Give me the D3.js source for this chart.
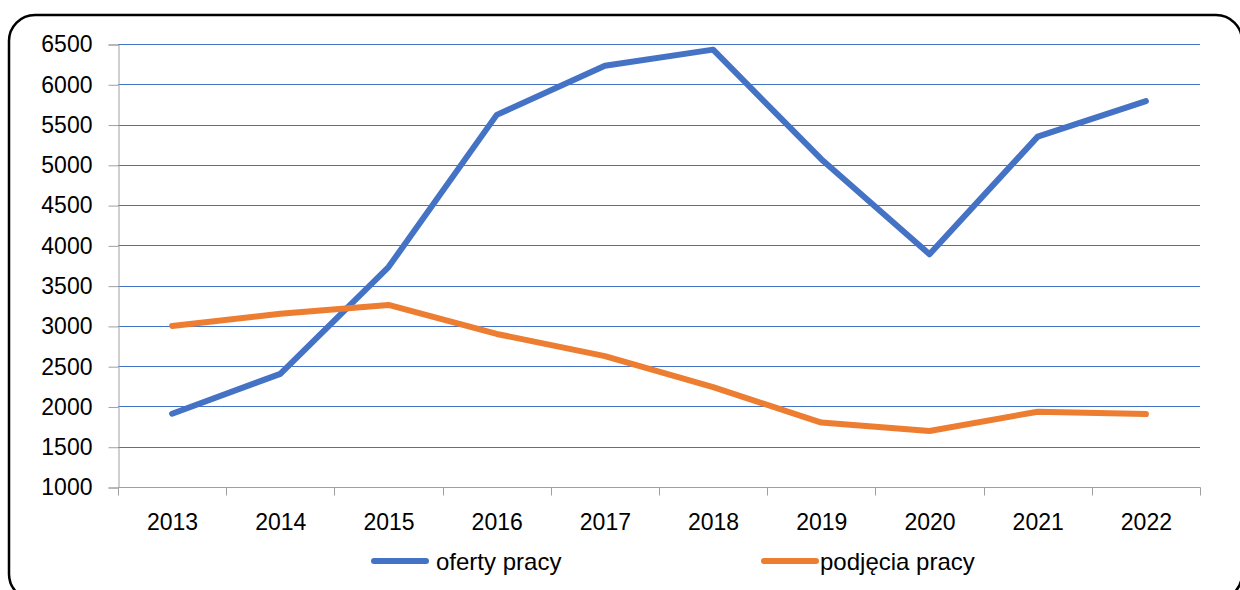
<!DOCTYPE html>
<html>
<head>
<meta charset="utf-8">
<script src="https://cdn.jsdelivr.net/npm/d3@7"></script>
<style>
  body { margin: 0; background: #fff; }
  svg { display: block; font-family: "Liberation Sans", Arial, sans-serif; }
</style>
</head>
<body>
<svg width="1240" height="590"></svg>
<script>
const width = 1240;
const height = 590;

// data
var years = ["2013", "2014", "2015", "2016", "2017", "2018", "2019", "2020", "2021", "2022"];
var oferty = [1910, 2405, 3730, 5620, 6230, 6430, 5070, 3890, 5350, 5790];
var podjecia = [3000, 3150, 3260, 2900, 2625, 2240, 1800, 1695, 1935, 1905];
var yTicks = [1000, 1500, 2000, 2500, 3000, 3500, 4000, 4500, 5000, 5500, 6000, 6500];

var series = [
    { name: "oferty pracy", values: oferty, color: "#4472C4" },
    { name: "podjęcia pracy", values: podjecia, color: "#ED7D31" }
];

var svg = d3.select("svg");

// frame round the chart (runs past the right and bottom edges)
svg.append("rect")
    .attr("x", 9).attr("y", 15)
    .attr("width", 1233).attr("height", 585)
    .attr("rx", 26).attr("ry", 26)
    .attr("fill", "none")
    .attr("stroke", "#000")
    .attr("stroke-width", 2.5);

var x = d3.scaleBand().domain(years).range([118, 1200]);
var y = d3.scaleLinear().domain([1000, 6500]).range([487, 44]);

// gridlines
svg.append("g")
    .selectAll("line")
    .data(yTicks.slice(1))
    .join("line")
    .attr("x1", 118).attr("x2", 1200)
    .attr("y1", d => Math.round(y(d)) + 0.5)
    .attr("y2", d => Math.round(y(d)) + 0.5)
    .attr("stroke", "#4472C4")
    .attr("stroke-width", 1);

// y axis
var yAxis = svg.append("g")
    .attr("transform", "translate(118.5,0.5)")
    .call(d3.axisLeft(y).tickValues(yTicks).tickSize(10).tickPadding(16).tickFormat(d3.format("d")));
yAxis.select(".domain").attr("stroke", "#a0a0a0");
yAxis.selectAll(".tick line").attr("stroke", "#a0a0a0");
yAxis.selectAll(".tick text").attr("font-size", 23).attr("fill", "#000")
    .attr("font-family", "Liberation Sans, Arial, sans-serif");

// x axis with ticks between categories
var xAxis = svg.append("g")
    .attr("transform", "translate(0.5,487.5)");
xAxis.append("line")
    .attr("x1", 118).attr("x2", 1200)
    .attr("stroke", "#a0a0a0");
xAxis.selectAll(".xt")
    .data(years.concat(["end"]))
    .join("line")
    .attr("class", "xt")
    .attr("x1", (d, i) => Math.round(i < years.length ? x(d) : x.range()[1]))
    .attr("x2", (d, i) => Math.round(i < years.length ? x(d) : x.range()[1]))
    .attr("y1", 0).attr("y2", 8)
    .attr("stroke", "#a0a0a0");
xAxis.selectAll("text")
    .data(years)
    .join("text")
    .attr("x", d => x(d) + x.bandwidth() / 2)
    .attr("y", 42)
    .attr("text-anchor", "middle")
    .attr("font-size", 23)
    .text(d => d);

// lines
var line = d3.line()
    .x((d, i) => x(years[i]) + x.bandwidth() / 2)
    .y(d => y(d));

svg.append("g")
    .selectAll("path")
    .data(series)
    .join("path")
    .attr("d", d => line(d.values))
    .attr("fill", "none")
    .attr("stroke", d => d.color)
    .attr("stroke-width", 6)
    .attr("stroke-linecap", "round")
    .attr("stroke-linejoin", "round");

// legend
var legendX = [372, 762];
var legend = svg.append("g")
    .selectAll("g")
    .data(series)
    .join("g")
    .attr("transform", (d, i) => "translate(" + legendX[i] + ",561)");
legend.append("line")
    .attr("x1", 2).attr("x2", 54)
    .attr("stroke", d => d.color)
    .attr("stroke-width", 6)
    .attr("stroke-linecap", "round");
legend.append("text")
    .attr("x", (d, i) => i == 0 ? 64 : 58)
    .attr("y", 9)
    .attr("font-size", 24)
    .text(d => d.name);
</script>
</body>
</html>
